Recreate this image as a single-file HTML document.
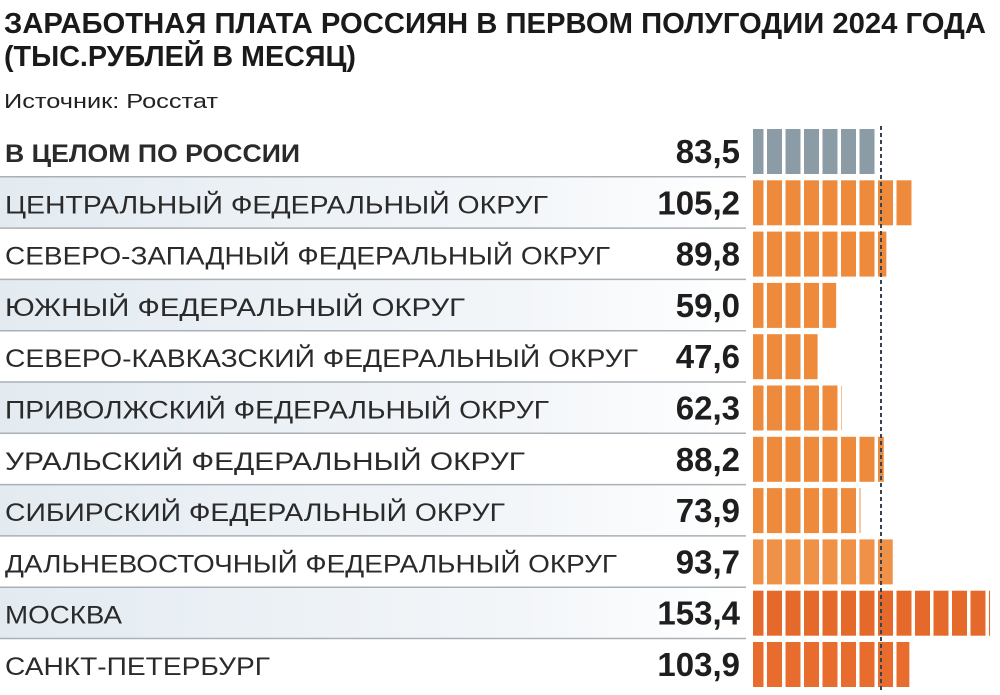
<!DOCTYPE html>
<html><head><meta charset="utf-8"><style>
html,body{margin:0;padding:0;background:#fff;}
svg{display:block;font-family:"Liberation Sans","Noto Sans CJK SC",sans-serif;}
</style></head><body>
<svg id="chart" width="1000" height="695" viewBox="0 0 1000 695" xmlns="http://www.w3.org/2000/svg">
<defs>
<linearGradient id="rowbg" x1="0" x2="1" y1="0" y2="0">
<stop offset="0" stop-color="#e3ebf1"/><stop offset="0.7" stop-color="#f3f6f9"/><stop offset="1" stop-color="#ffffff"/>
</linearGradient>
<clipPath id="barclip"><rect x="753" y="0" width="247" height="695"/></clipPath>
</defs>
<text x="4" y="33" font-size="29" font-weight="bold" fill="#1a1a1a" textLength="982" lengthAdjust="spacingAndGlyphs">ЗАРАБОТНАЯ ПЛАТА РОССИЯН  В ПЕРВОМ ПОЛУГОДИИ 2024 ГОДА</text>
<text x="4" y="66" font-size="29" font-weight="bold" fill="#1a1a1a" textLength="352" lengthAdjust="spacingAndGlyphs">(ТЫС.РУБЛЕЙ В МЕСЯЦ)</text>
<text x="4" y="108" font-size="20" fill="#222" textLength="214" lengthAdjust="spacingAndGlyphs">Источник: Росстат</text>
<g id="rows"></g>
<g id="bars" clip-path="url(#barclip)"></g>
<line x1="881" y1="126" x2="881" y2="692" stroke="#3a4450" stroke-width="2" stroke-dasharray="4,3"/>
</svg>
<script>
const categories = ["В ЦЕЛОМ ПО РОССИИ","ЦЕНТРАЛЬНЫЙ ФЕДЕРАЛЬНЫЙ ОКРУГ","СЕВЕРО-ЗАПАДНЫЙ ФЕДЕРАЛЬНЫЙ ОКРУГ","ЮЖНЫЙ ФЕДЕРАЛЬНЫЙ ОКРУГ","СЕВЕРО-КАВКАЗСКИЙ ФЕДЕРАЛЬНЫЙ ОКРУГ","ПРИВОЛЖСКИЙ ФЕДЕРАЛЬНЫЙ ОКРУГ","УРАЛЬСКИЙ ФЕДЕРАЛЬНЫЙ ОКРУГ","СИБИРСКИЙ ФЕДЕРАЛЬНЫЙ ОКРУГ","ДАЛЬНЕВОСТОЧНЫЙ ФЕДЕРАЛЬНЫЙ ОКРУГ","МОСКВА","САНКТ-ПЕТЕРБУРГ"];
const values = [83.5,105.2,89.8,59.0,47.6,62.3,88.2,73.9,93.7,153.4,103.9];
const valueLabels = ["83,5","105,2","89,8","59,0","47,6","62,3","88,2","73,9","93,7","153,4","103,9"];
const labelWidths = [295,543,605,460,633,544,520,500,612,117,265];
const barColors = ["#8c9ca6","#ee8a3c","#ee8a3c","#ee8a3c","#ee8a3c","#ee8a3c","#ee8a3c","#ee8a3c","#ef9146","#e6692c","#e86c2e"];

const NS="http://www.w3.org/2000/svg";
const x0=740, scale=1.63, top0=127, rowH=51.3;
function xScale(v){return x0+v*scale;}
function rowY(i){return top0+i*rowH;}
const rows=document.getElementById('rows'), bars=document.getElementById('bars');
function mk(tag,attrs,parent){const e=document.createElementNS(NS,tag);for(const k in attrs)e.setAttribute(k,attrs[k]);parent.appendChild(e);return e;}
categories.forEach((c,i)=>{
  const y=rowY(i);
  if(i%2===1){
    const bg=mk('rect',{x:0,y:y-1,width:748,height:rowH,fill:'url(#rowbg)'},rows);
    
    
  }
  if(i>0){
    const ln=mk('line',{x1:0,x2:746,y1:y-1.5,y2:y-1.5,stroke:'#a9b0b6','stroke-width':1.5},rows);
    
    
  }
  const t=mk('text',{x:5,y:y+35,'font-size':25,fill:'#2a2a2a',textLength:labelWidths[i],lengthAdjust:'spacingAndGlyphs','font-weight':i===0?'bold':'normal'},rows);
  t.textContent=c;
  
  
  const v=mk('text',{x:740,y:y+36,'font-size':33,'font-weight':'bold',fill:'#1e1e1e','text-anchor':'end'},rows);
  v.textContent=valueLabels[i];
  
  
  // segmented bar
  const g=mk('g',{},bars);
  
  
  const end=xScale(values[i]);
  const pitch=18.5, segStart=748.5;
  for(let s=segStart;s<end;s+=pitch){
    const w=Math.min(15,end-s);
    if(w<=0.5)break;
    const r=mk('rect',{x:s,y:y+2,width:w,height:45,fill:barColors[i]},g);
    
    
  }
});
</script>
</body></html>
